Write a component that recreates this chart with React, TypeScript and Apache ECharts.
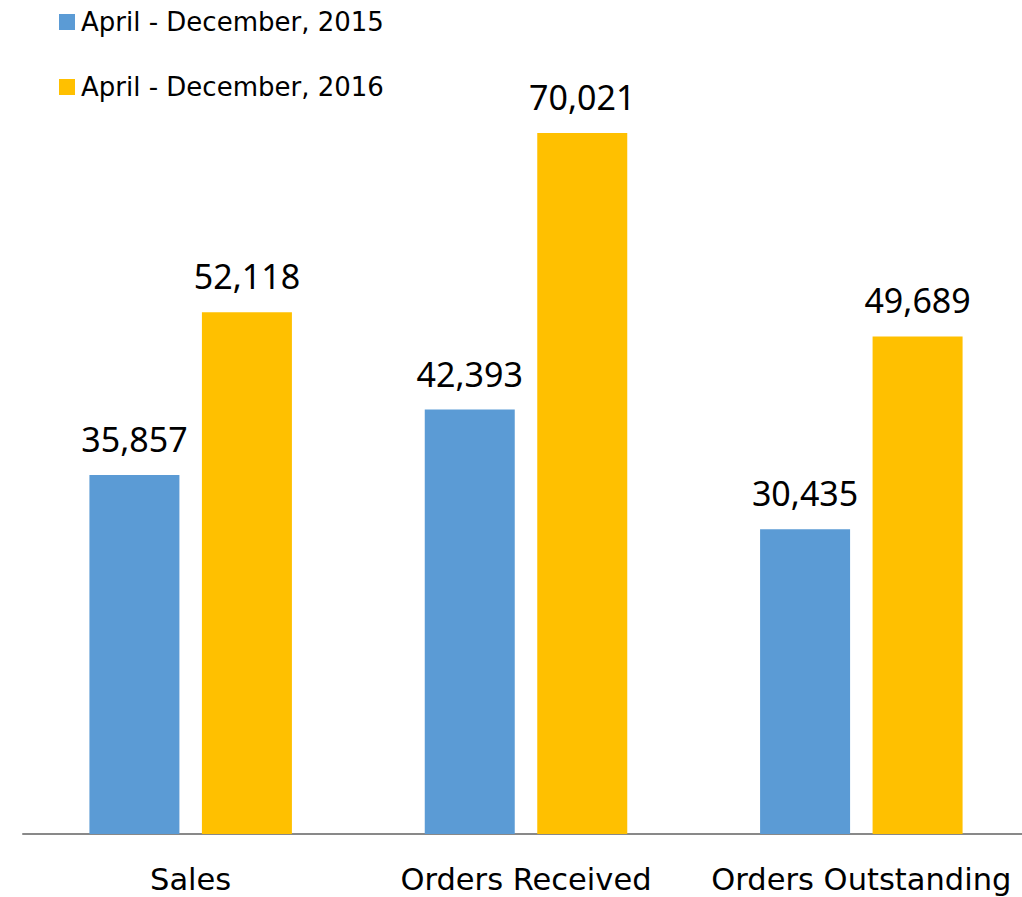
import React, { useEffect, useRef } from "react";
import * as echarts from "echarts";

const categories = ["Sales", "Orders Received", "Orders Outstanding"];
const seriesNames = ["April - December, 2015", "April - December, 2016"];
const values2015 = [35857, 42393, 30435];
const values2016 = [52118, 70021, 49689];
const colors = ["#5B9BD5", "#FFC000"];

const NUM_FONT = "'Noto Sans', sans-serif";
const TXT_FONT = "'DejaVu Sans', sans-serif";

export default function App() {
  const ref = useRef<HTMLDivElement>(null);
  useEffect(() => {
    if (!ref.current) return;
    const chart = echarts.init(ref.current, null, { renderer: "svg" });
    const label = {
      show: true,
      position: "top",
      distance: 19,
      fontFamily: NUM_FONT,
      fontSize: 34,
      color: "#000",
      formatter: (p: any) => Number(p.value).toLocaleString("en-US"),
    };
    chart.setOption({
      animation: false,
      legend: {
        orient: "vertical",
        left: 54,
        top: 2,
        itemWidth: 16,
        itemHeight: 16,
        itemGap: 35,
        icon: "rect",
        textStyle: { fontFamily: TXT_FONT, fontSize: 26, color: "#000", lineHeight: 30, padding: [0, 0, 0, 1] },
        data: seriesNames,
      },
      grid: { left: 23, width: 1006, top: 33, bottom: 63, outerBoundsMode: "none", containLabel: false },
      xAxis: {
        type: "category",
        data: categories,
        axisTick: { show: false },
        axisLine: { lineStyle: { color: "#898989", width: 2 } },
        axisLabel: { fontFamily: TXT_FONT, fontSize: 30.5, color: "#000", margin: 30, interval: 0, hideOverlap: false },
      },
      yAxis: {
        type: "value",
        min: 0,
        max: 80000,
        show: false,
        splitLine: { show: false },
      },
      series: [
        {
          name: seriesNames[0],
          type: "bar",
          data: values2015,
          barWidth: 90,
          barGap: "25%",
          itemStyle: { color: colors[0] },
          label,
        },
        {
          name: seriesNames[1],
          type: "bar",
          data: values2016,
          barWidth: 90,
          barGap: "25%",
          itemStyle: { color: colors[1] },
          label,
        },
      ],
    });
    return () => chart.dispose();
  }, []);
  return (
    <div
      ref={ref}
      style={{ position: "absolute", left: 0, top: 0, width: 1022, height: 897, background: "#fff" }}
    />
  );
}
